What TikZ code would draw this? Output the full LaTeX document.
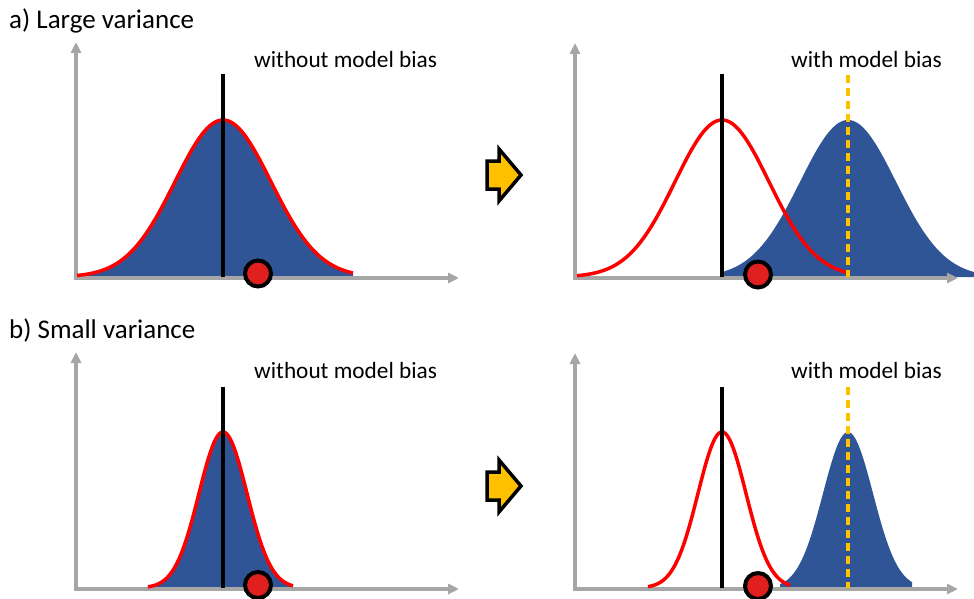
\documentclass[tikz,border=0pt]{standalone}
\usepackage{fontspec}
\setmainfont{Carlito}
\usetikzlibrary{arrows.meta}
\definecolor{axisgray}{HTML}{A6A6A6}
\definecolor{fillblue}{HTML}{2F5597}
\definecolor{dotred}{HTML}{E0201F}
\definecolor{biasyellow}{HTML}{FFC000}
\begin{document}
\begin{tikzpicture}[x=1pt,y=-1pt,
  declare function={gs(\x,\m,\s)=exp(-0.5*((\x-\m)/\s)*((\x-\m)/\s));},
  axis/.style={draw=axisgray, line width=3.5pt, {Triangle[length=11pt,width=10pt]}-{Triangle[length=11pt,width=10pt]}},
  redcurve/.style={draw=red, line width=3.5pt},
  truth/.style={draw=black, line width=4pt},
  biasline/.style={draw=biasyellow, line width=3.5pt, dash pattern=on 8pt off 5pt},
  obs/.style={circle, fill=dotred, draw=black, line width=4pt, minimum size=26pt, inner sep=0pt},
  paneltitle/.style={font=\fontsize{27}{31}\selectfont, anchor=base west, inner sep=0pt},
  panellabel/.style={font=\fontsize{23.3}{28}\selectfont, anchor=base west, inner sep=0pt},
  blockarrow/.style={fill=biasyellow, draw=black, line width=3.5pt, line join=miter}
]
\useasboundingbox (0,0) rectangle (974,599);

% ---------------- Row a ----------------
\node[paneltitle] (ta) at (9,28.5) {a) Large variance};
\node[panellabel] (la1) at (254,68) {without model bias};
\node[panellabel] (la2) at (791,68) {with model bias};

% left panel a
\fill[fillblue] (77,277) -- plot[domain=77:353, samples=120] (\x,{277-157*gs(\x,223,48)}) -- (353,277) -- cycle;
\draw[axis] (76,42) -- (76,278) -- (459,278);
\draw[redcurve] plot[domain=77:353, samples=120] (\x,{277-157*gs(\x,223,48)});
\draw[truth] (223,74) -- (223,277);
\node[obs] (da1) at (258,273.5) {};

% arrow a
\draw[blockarrow] (487,161) -- (499,161) -- (499,149) -- (521,175) -- (499,201) -- (499,189) -- (487,189) -- cycle;

% right panel a
\fill[fillblue] (723,277) -- plot[domain=723:974, samples=120] (\x,{277-157*gs(\x,848,48)}) -- (974,277) -- cycle;
\draw[axis] (575,43) -- (575,278) -- (958,278);
\draw[redcurve] plot[domain=577:850, samples=120] (\x,{277-157*gs(\x,722,47)});
\draw[truth] (722,74) -- (722,277);
\draw[biasline] (848,75) -- (848,277);
\node[obs] (da2) at (758,274.5) {};

% ---------------- Row b ----------------
\node[paneltitle] (tb) at (9,338.5) {b) Small variance};
\node[panellabel] (lb1) at (254,378.5) {without model bias};
\node[panellabel] (lb2) at (791,378.5) {with model bias};

% left panel b
\fill[fillblue] (148,588) -- plot[domain=148:293, samples=100] (\x,{588-156*gs(\x,223,24)}) -- (293,588) -- cycle;
\draw[axis] (76,352) -- (76,589) -- (459,589);
\draw[redcurve] plot[domain=148:293, samples=100] (\x,{588-156*gs(\x,223,24)});
\draw[truth] (223,387) -- (223,588);
\node[obs] (db1) at (258,585) {};

% arrow b
\draw[blockarrow] (487,472) -- (499,472) -- (499,460) -- (521,486) -- (499,512) -- (499,500) -- (487,500) -- cycle;

% right panel b
\fill[fillblue] (780,588) -- plot[domain=780:912, samples=100] (\x,{588-156*gs(\x,848,25)}) -- (912,588) -- cycle;
\draw[axis] (575,353) -- (575,589) -- (958,589);
\draw[redcurve] plot[domain=648:790, samples=100] (\x,{588-156*gs(\x,722,24)});
\draw[truth] (722,387) -- (722,588);
\draw[biasline] (848,387) -- (848,588);
\node[obs] (db2) at (758,586) {};
\end{tikzpicture}
\end{document}
